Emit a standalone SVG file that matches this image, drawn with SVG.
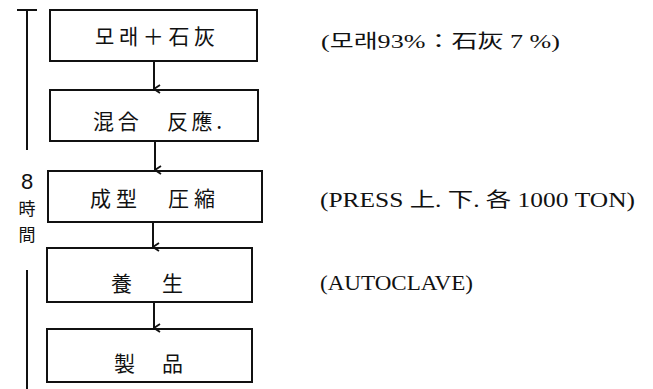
<svg xmlns="http://www.w3.org/2000/svg" width="653" height="389" viewBox="0 0 653 389">
<defs>
<style>
.box{fill:none;stroke:#111;stroke-width:2}
.t{font-family:"Noto Sans CJK KR","Noto Sans CJK JP",sans-serif;font-size:21px;fill:#111;dominant-baseline:central}
.n{font-family:"Liberation Serif","Noto Sans CJK KR",serif;font-size:19px;fill:#111;dominant-baseline:central}
.c{stroke:#111;stroke-width:2;fill:none}
</style>
<marker id="ah" viewBox="0 0 10 10" refX="5" refY="9" markerWidth="10" markerHeight="10" markerUnits="userSpaceOnUse" orient="auto-start-reverse">
<path d="M1,3 L5,9 L9,3" fill="none" stroke="#111" stroke-width="1.8"/>
</marker>
</defs>
<rect width="653" height="389" fill="#fff"/>
<g id="timebar">
<line class="c" x1="17" y1="10" x2="37" y2="10"/>
<line class="c" x1="27" y1="10" x2="27" y2="150"/>
<line class="c" x1="27" y1="270" x2="27" y2="389"/>
<text class="t" text-anchor="middle" style="font-size:17px"><tspan x="27" y="181" style="font-family:'Liberation Sans',sans-serif;font-size:22px">8</tspan><tspan x="27" y="207">時</tspan><tspan x="27" y="233">間</tspan></text>
</g>
<g id="n1"><rect class="box" x="50" y="10" width="207" height="51"/><text class="t" x="95" y="35" textLength="120" lengthAdjust="spacing">모래＋石灰</text></g>
<g id="n2"><rect class="box" x="50" y="90" width="208" height="51"/><text class="t" x="93" y="120" textLength="129" lengthAdjust="spacing">混合　反應.</text></g>
<g id="n3"><rect class="box" x="48" y="171" width="214" height="51"/><text class="t" x="90" y="197" textLength="125" lengthAdjust="spacing">成型　圧縮</text></g>
<g id="n4"><rect class="box" x="47" y="248" width="205" height="54"/><text class="t" x="111" y="282" textLength="72" lengthAdjust="spacing">養　生</text></g>
<g id="n5"><rect class="box" x="47" y="329" width="205" height="53"/><text class="t" x="114" y="362" textLength="69" lengthAdjust="spacing">製　品</text></g>
<g id="connectors">
<line class="c" x1="154" y1="61" x2="154" y2="89" marker-end="url(#ah)"/>
<line class="c" x1="155" y1="141" x2="155" y2="170" marker-end="url(#ah)"/>
<line class="c" x1="153" y1="222" x2="153" y2="247" marker-end="url(#ah)"/>
<line class="c" x1="154" y1="302" x2="154" y2="328" marker-end="url(#ah)"/>
</g>
<g id="notes">
<text class="n" x="321" y="41" textLength="239" lengthAdjust="spacingAndGlyphs">(모래93%：石灰 7 %)</text>
<text class="n" x="320" y="200" textLength="315" lengthAdjust="spacingAndGlyphs" style="font-size:20px">(PRESS 上. 下. 各 1000 TON)</text>
<text class="n" x="320" y="283" textLength="153" lengthAdjust="spacingAndGlyphs" style="font-size:20px">(AUTOCLAVE)</text>
</g>
</svg>
